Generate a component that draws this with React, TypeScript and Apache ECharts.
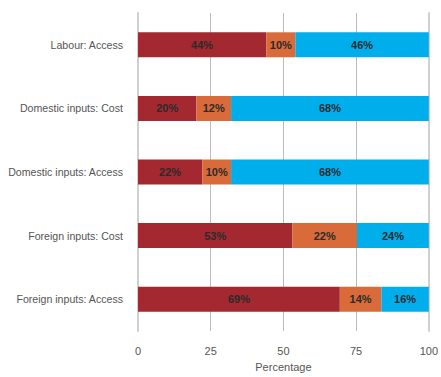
import React, { useEffect, useRef } from "react";
import * as echarts from "echarts";

const categories = [
  "Labour: Access",
  "Domestic inputs: Cost",
  "Domestic inputs: Access",
  "Foreign inputs: Cost",
  "Foreign inputs: Access",
];
const redValues = [44.1, 20.1, 22.1, 53.1, 69.4];
const orangeValues = [10.0, 11.9, 9.9, 22.2, 14.3];
const blueValues = [45.9, 68.0, 68.0, 24.7, 16.3];
const redLabels = ["44%", "20%", "22%", "53%", "69%"];
const orangeLabels = ["10%", "12%", "10%", "22%", "14%"];
const blueLabels = ["46%", "68%", "68%", "24%", "16%"];
const xTicks = [0, 25, 50, 75, 100];

export default function App() {
  const ref = useRef<HTMLDivElement>(null);
  useEffect(() => {
    if (!ref.current) return;
    const chart = echarts.init(ref.current, null, { renderer: "svg" });
    const font = "Liberation Sans, Arial, sans-serif";
    const mk = (name: string, values: number[], labels: string[], color: string) => ({
      name,
      type: "bar",
      stack: "total",
      barWidth: 25,
      data: values,
      itemStyle: { color },
      label: {
        show: true,
        position: "inside",
        formatter: (p: any) => labels[p.dataIndex],
        color: "#2b2b2b",
        fontWeight: "bold",
        fontSize: 11,
        fontFamily: font,
      },
    });
    chart.setOption({
      animation: false,
      grid: { left: 138, right: 9, top: 13, height: 325 },
      xAxis: {
        type: "value",
        min: 0,
        max: 100,
        interval: 25,
        name: "Percentage",
        nameLocation: "middle",
        nameGap: 30,
        nameTextStyle: { color: "#555", fontSize: 11, fontFamily: font },
        axisLine: { show: false },
        axisTick: { show: false },
        axisLabel: {
          color: "#555",
          fontSize: 11,
          margin: 14,
          fontFamily: font,
          formatter: (v: number) => (xTicks.includes(v) ? String(v) : ""),
        },
        splitLine: { show: true, lineStyle: { color: "#bdbdbd", width: 1 } },
      },
      yAxis: [
        {
          type: "category",
          data: categories,
          inverse: true,
          axisLine: { show: true, lineStyle: { color: "#d0d0d0", width: 2 } },
          axisTick: { show: false },
          axisLabel: { color: "#555", fontSize: 10.6, margin: 15, fontFamily: font },
        },
        {
          type: "category",
          data: categories,
          inverse: true,
          position: "right",
          axisLine: { show: true, lineStyle: { color: "#d0d0d0", width: 2 } },
          axisTick: { show: false },
          axisLabel: { show: false },
        },
      ],
      series: [
        mk("Red", redValues, redLabels, "#A3282F"),
        mk("Orange", orangeValues, orangeLabels, "#D96A39"),
        mk("Blue", blueValues, blueLabels, "#00AEEB"),
      ],
    });
    return () => chart.dispose();
  }, []);
  return <div ref={ref} style={{ width: 441, height: 377, position: "absolute", left: 0, top: 0 }} />;
}
